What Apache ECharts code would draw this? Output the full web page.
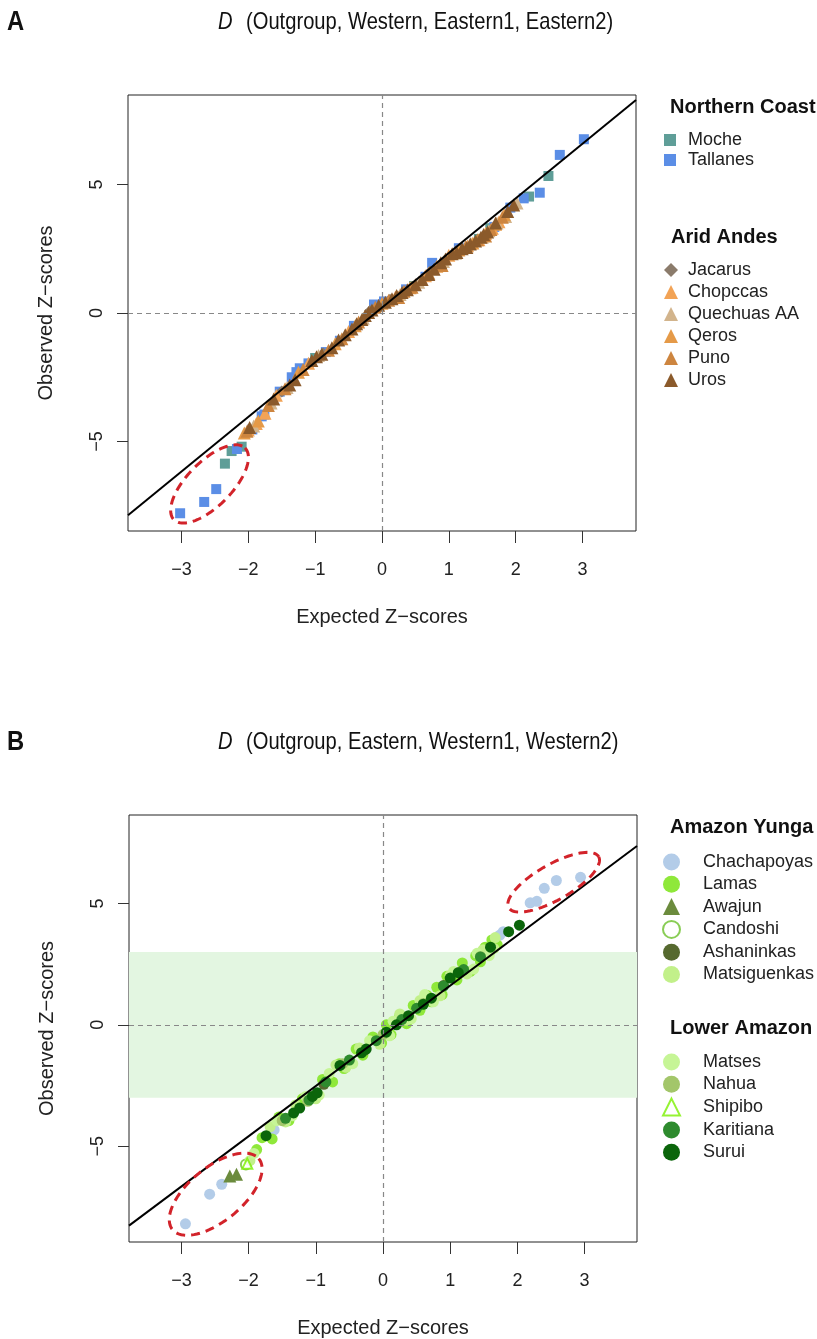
<!DOCTYPE html>
<html>
<head>
<meta charset="utf-8">
<script src="https://cdn.jsdelivr.net/npm/echarts@6/dist/echarts.min.js"></script>
<style>
html, body { margin: 0; background: #fff; }
#chart { width: 817px; height: 1339px; }
</style>
</head>
<body>
<div id="chart"></div>
<script>
// ---- data: [expected Z, observed Z] ----
const xTicks = [-3, -2, -1, 0, 1, 2, 3];
const yTicks = [-5, 0, 5];

// panel A: D(Outgroup, Western, Eastern1, Eastern2)
const moche = [[-2.35, -5.86], [-2.25, -5.37], [-2.1, -5.2], [-1.0, -1.75], [0.48, 1.05], [1.45, 2.88], [1.62, 3.3], [2.2, 4.53], [2.49, 5.33]];
const tallanes = [[-3.02, -7.79], [-2.66, -7.35], [-2.48, -6.85], [-2.17, -5.29], [-1.94, -4.53], [-1.8, -4.02], [-1.76, -3.95],
  [-1.53, -3.06], [-1.35, -2.5], [-1.28, -2.3], [-1.23, -2.15], [-1.1, -1.96], [-0.84, -1.52], [-0.63, -1.08], [-0.42, -0.5],
  [-0.12, 0.33], [0.03, 0.45], [0.36, 0.92], [0.65, 1.41], [0.75, 1.95], [1.15, 2.52], [1.68, 3.35], [1.92, 4.1], [2.12, 4.46],
  [2.36, 4.68], [2.66, 6.15], [3.02, 6.76]];
const jacarus = [[-1.5, -3.05], [-0.88, -1.58], [-0.18, 0.08], [0.12, 0.52], [0.72, 1.6], [1.18, 2.48]];
const chopccas = [[-2.0, -4.55], [-1.88, -4.3], [-1.75, -3.9], [-1.58, -3.2], [-1.1, -1.95], [-0.5, -0.72], [0.2, 0.62], [0.65, 1.45],
  [1.0, 2.25], [1.28, 2.62], [1.45, 2.85], [1.55, 3.1], [1.65, 3.3], [1.75, 3.55]];
const quechuasAA = [[-1.92, -4.4], [-1.66, -3.5], [-1.42, -2.9], [-0.95, -1.65], [-0.28, -0.2], [0.27, 0.72], [0.55, 1.2],
  [0.92, 2.0], [1.1, 2.32], [1.33, 2.7], [1.5, 2.95], [1.6, 3.2], [1.72, 3.5], [1.85, 3.75], [2.02, 4.28]];
const qeros = [[-2.06, -4.67], [-1.85, -4.2], [-1.25, -2.3], [-0.7, -1.2], [-0.4, -0.5], [0.0, 0.38], [0.42, 0.98],
  [0.82, 1.82], [1.15, 2.45], [1.36, 2.72], [1.7, 3.45], [1.83, 3.82]];
const puno = [[-2.02, -4.6], [-1.7, -3.6], [-1.45, -2.95], [-1.18, -2.2], [-0.8, -1.45], [-0.6, -1.0], [-0.35, -0.35],
  [-0.1, 0.22], [0.1, 0.5], [0.25, 0.6], [0.33, 0.85], [0.45, 1.0], [0.7, 1.55], [0.9, 1.85], [1.1, 2.38], [1.25, 2.58],
  [1.43, 2.85], [1.55, 3.0], [1.63, 3.25], [1.8, 3.72]];
const uros = [[-1.98, -4.45], [-1.62, -3.35], [-1.38, -2.8], [-1.3, -2.6], [-1.05, -1.85], [-0.98, -1.7], [-0.9, -1.6],
  [-0.75, -1.35], [-0.65, -1.05], [-0.55, -0.85], [-0.45, -0.62], [-0.38, -0.42], [-0.3, -0.25], [-0.25, -0.1], [-0.2, 0.02],
  [-0.15, 0.12], [-0.05, 0.3], [0.05, 0.42], [0.15, 0.55], [0.22, 0.68], [0.3, 0.8], [0.38, 0.9], [0.5, 1.1], [0.6, 1.3],
  [0.7, 1.5], [0.78, 1.7], [0.88, 1.95], [0.95, 2.1], [1.05, 2.3], [1.12, 2.35], [1.2, 2.5], [1.27, 2.55], [1.32, 2.68],
  [1.4, 2.8], [1.48, 2.95], [1.52, 3.05], [1.58, 3.15], [1.7, 3.5], [1.88, 3.95], [1.97, 4.2]];

// panel B: D(Outgroup, Eastern, Western1, Western2)
const chachapoyas = [[-2.94, -8.2], [-2.58, -6.98], [-2.4, -6.57], [-1.62, -4.33], [1.74, 3.7], [1.79, 3.84],
  [2.19, 5.03], [2.29, 5.09], [2.4, 5.63], [2.58, 5.95], [2.94, 6.08]];
const lamas = [[-1.88, -5.14], [-1.8, -4.65], [-1.65, -4.7], [-1.55, -3.8], [-1.4, -3.95], [-1.2, -3.05], [-1.05, -2.95],
  [-0.9, -2.25], [-0.75, -2.35], [-0.65, -1.6], [-0.58, -1.8], [-0.4, -1.0], [-0.3, -1.25], [-0.15, -0.5], [-0.02, -0.75],
  [0.05, 0.0], [0.12, -0.4], [0.25, 0.38], [0.35, 0.05], [0.45, 0.8], [0.55, 0.6], [0.65, 1.22], [0.72, 0.95], [0.8, 1.55],
  [0.88, 1.25], [0.95, 2.0], [1.1, 1.85], [1.18, 2.55], [1.3, 2.2], [1.38, 2.85], [1.45, 2.6], [1.52, 3.2], [1.58, 2.95],
  [1.62, 3.5], [1.7, 3.3]];
const awajun = [[-2.28, -6.23], [-2.18, -6.16]];
const candoshi = [[-2.04, -5.76]];
const ashaninkas = [[-0.88, -2.45], [-0.28, -1.05], [0.32, 0.3], [0.9, 1.62]];
const matsiguenkas = [[-1.98, -5.6], [-1.68, -4.2], [-1.45, -4.0], [-1.3, -3.3], [-1.0, -3.05], [-0.7, -1.65], [-0.55, -1.75],
  [-0.35, -0.95], [-0.05, -0.8], [0.25, 0.45], [0.35, 0.2], [0.55, 1.0], [0.85, 1.2], [1.0, 2.05], [1.25, 2.1], [1.49, 3.1],
  [1.65, 3.15], [1.67, 3.6]];
const matses = [[-1.92, -5.3], [-1.58, -3.95], [-1.35, -3.75], [-1.15, -2.95], [-0.95, -2.9], [-0.8, -2.0], [-0.45, -1.6],
  [-0.2, -0.65], [0.1, -0.45], [0.15, 0.15], [0.42, 0.25], [0.62, 1.25], [0.75, 0.95], [1.05, 2.2], [1.35, 2.3], [1.4, 2.95], [1.58, 2.85]];
const nahua = [[-1.5, -3.95], [-1.12, -3.15], [-0.6, -1.6], [0.0, -0.4], [0.6, 0.88], [1.15, 2.2], [1.45, 2.82]];
const shipibo = [[-2.02, -5.72]];
const karitiana = [[-1.45, -3.85], [-1.1, -3.1], [-0.85, -2.35], [-0.5, -1.45], [-0.1, -0.65], [0.28, 0.22], [0.5, 0.68],
  [0.9, 1.6], [1.2, 2.28], [1.45, 2.8]];
const surui = [[-1.74, -4.57], [-1.33, -3.63], [-1.24, -3.43], [-1.05, -2.95], [-0.98, -2.8], [-0.64, -1.67], [-0.32, -1.15],
  [-0.25, -1.0], [0.05, -0.3], [0.2, 0.0], [0.38, 0.38], [0.6, 0.85], [0.72, 1.1], [1.0, 1.93], [1.12, 2.15], [1.6, 3.2],
  [1.87, 3.84], [2.03, 4.11]];

// fitted reference lines [intercept, slope] and axis ranges
const lineA = [0.21, 2.125];
const lineB = [-0.45, 2.07];
const xRangeA = [-3.8, 3.8], yRangeA = [-8.48, 8.48];
const xRangeB = [-3.78, 3.78], yRangeB = [-8.95, 8.65];
const bandB = [-3, 3];

// highlighted outliers: [cx, cy, axis1 dx, dy, axis2 dx, dy] in data units
const ellipsesA = [[-2.58, -6.65, 0.53, 1.40, 0.24, -0.60]];
const ellipsesB = [[-2.49, -6.98, 0.64, 1.47, 0.26, -0.84], [2.54, 5.88, 0.67, 1.05, 0.13, -0.64]];

// ---- chart ----
const FONT = "'Liberation Sans', Arial, sans-serif";
const chart = echarts.init(document.getElementById('chart'), null, { renderer: 'canvas' });

const minus = v => String(v).replace('-', '\u2212');

const makeAxes = (grid, xr, yr) => ({
	x: {
		type: 'value', gridIndex: grid, min: xr[0], max: xr[1],
		name: 'Expected Z\u2212scores', nameLocation: 'middle', nameGap: 76,
		nameTextStyle: { fontFamily: FONT, fontSize: 20, color: '#222' },
		axisLine: { show: false, onZero: false },
		axisTick: { show: true, length: 12, customValues: xTicks, lineStyle: { color: '#333' } },
		axisLabel: { customValues: xTicks, margin: 30, fontFamily: FONT, fontSize: 18, color: '#222', formatter: minus },
		splitLine: { show: false },
	},
	y: {
		type: 'value', gridIndex: grid, min: yr[0], max: yr[1],
		name: 'Observed Z\u2212scores', nameLocation: 'middle', nameGap: 72,
		nameTextStyle: { fontFamily: FONT, fontSize: 20, color: '#222' },
		axisLine: { show: false, onZero: false },
		axisTick: { show: true, length: 11, customValues: yTicks, lineStyle: { color: '#333' } },
		axisLabel: { customValues: yTicks, rotate: 90, margin: 22, fontFamily: FONT, fontSize: 18, color: '#222', formatter: minus },
		splitLine: { show: false },
	},
});
const axA = makeAxes(0, xRangeA, yRangeA);
const axB = makeAxes(1, xRangeB, yRangeB);

const pts = (name, data, idx, symbol, color, size, extra = {}) => Object.assign({
	name, type: 'scatter', xAxisIndex: idx, yAxisIndex: idx, data, symbol, symbolSize: size,
	itemStyle: { color, opacity: 1 }, z: 3, silent: true,
}, extra);

const abline = (idx, ln, xr) => ({
	type: 'line', xAxisIndex: idx, yAxisIndex: idx, z: 5, silent: true, symbol: 'none',
	data: [[xr[0], ln[0] + ln[1] * xr[0]], [xr[1], ln[0] + ln[1] * xr[1]]],
	lineStyle: { color: '#000', width: 2 },
});

const zeroLines = {
	symbol: 'none', silent: true, label: { show: false },
	lineStyle: { color: '#888', type: [5, 4], width: 1.2 },
	data: [{ xAxis: 0 }, { yAxis: 0 }],
};

const background = (idx, ln, xr, band) => ({
	type: 'line', xAxisIndex: idx, yAxisIndex: idx, z: 1, silent: true, symbol: 'none',
	data: [[xr[0], ln[0] + ln[1] * xr[0]], [xr[1], ln[0] + ln[1] * xr[1]]],
	lineStyle: { opacity: 0 },
	markLine: zeroLines,
	markArea: band ? { silent: true, itemStyle: { color: '#e3f6e1' }, data: [[{ yAxis: band[0] }, { yAxis: band[1] }]] } : undefined,
});

const ellipse = (idx, data) => ({
	type: 'custom', xAxisIndex: idx, yAxisIndex: idx, z: 6, silent: true, clip: false,
	data, encode: { x: 0, y: 1 },
	renderItem: (params, api) => {
		const v = [0, 1, 2, 3, 4, 5].map(i => api.value(i));
		const points = [];
		for (let k = 0; k <= 90; k++) {
			const t = k / 90 * Math.PI * 2;
			points.push(api.coord([v[0] + v[2] * Math.cos(t) + v[4] * Math.sin(t), v[1] + v[3] * Math.cos(t) + v[5] * Math.sin(t)]));
		}
		return { type: 'polyline', shape: { points }, style: { fill: null, stroke: '#d2232a', lineWidth: 3, lineDash: [9, 6] } };
	},
});

const legendBase = (names, left, top, gap, size, pad) => ({
	orient: 'vertical', left, top, padding: 0, itemGap: gap, itemWidth: size, itemHeight: size,
	selectedMode: false, data: names,
	textStyle: { fontFamily: FONT, fontSize: 18, lineHeight: 18, color: '#222', padding: [0, 0, 0, pad] },
});

const heading = (text, left, top) => ({ text, left, top, padding: 0,
	textStyle: { fontFamily: FONT, color: '#111', fontSize: 20, fontWeight: 'bold' } });

// panel letters and D-statistic titles, drawn condensed like the original figure
const panelTitle = (letter, rest, top) => [
	{ type: 'text', x: 7, y: top - 2, scaleX: 0.85, style: { text: letter, font: "bold 28px 'Liberation Sans', Arial", fill: '#111' } },
	{ type: 'text', x: 218, y: top, scaleX: 0.84, style: { text: 'D', font: "italic 24px 'Liberation Sans', Arial", fill: '#111' } },
	{ type: 'text', x: 246, y: top, scaleX: 0.84, style: { text: rest, font: "24px 'Liberation Sans', Arial", fill: '#111' } },
];

const option = {
	backgroundColor: '#fff',
	animation: false,
	graphic: [
		...panelTitle('A', '(Outgroup, Western, Eastern1, Eastern2)', 10),
		...panelTitle('B', '(Outgroup, Eastern, Western1, Western2)', 730),
	],
	title: [
		heading('Northern Coast', 670, 97),
		heading('Arid Andes', 671, 227),
		heading('Amazon Yunga', 670, 817),
		heading('Lower Amazon', 670, 1018),
	],
	legend: [
		legendBase(['Moche', 'Tallanes'], 664, 131, 2, 12, 7),
		legendBase(['Jacarus', 'Chopccas', 'Quechuas AA', 'Qeros', 'Puno', 'Uros'], 664, 261, 4, 14, 5),
		legendBase(['Chachapoyas', 'Lamas', 'Awajun', 'Candoshi', 'Ashaninkas', 'Matsiguenkas'], 662, 853, 4.3, 17, 18),
		legendBase(['Matses', 'Nahua', 'Shipibo', 'Karitiana', 'Surui'], 662, 1053, 4.3, 17, 18),
	],
	grid: [
		{ left: 128, top: 95, width: 508, height: 436, show: true, borderColor: '#222', borderWidth: 1, backgroundColor: 'transparent' },
		{ left: 129, top: 815, width: 508, height: 427, show: true, borderColor: '#222', borderWidth: 1, backgroundColor: 'transparent' },
	],
	xAxis: [axA.x, axB.x],
	yAxis: [axA.y, axB.y],
	series: [
		background(0, lineA, xRangeA, null),
		background(1, lineB, xRangeB, bandB),
		// panel A
		pts('Moche', moche, 0, 'rect', '#5f9e98', 10),
		pts('Tallanes', tallanes, 0, 'rect', '#5b8ee6', 10),
		pts('Jacarus', jacarus, 0, 'diamond', '#8b7b6b', 12),
		pts('Chopccas', chopccas, 0, 'triangle', '#f2a356', 13),
		pts('Quechuas AA', quechuasAA, 0, 'triangle', '#d2b48c', 13),
		pts('Qeros', qeros, 0, 'triangle', '#e59a48', 13),
		pts('Puno', puno, 0, 'triangle', '#cd853f', 13),
		pts('Uros', uros, 0, 'triangle', '#8b5a2b', 13),
		// panel B
		pts('Chachapoyas', chachapoyas, 1, 'circle', '#b3cce8', 11),
		pts('Lamas', lamas, 1, 'circle', '#8fe83a', 11),
		pts('Awajun', awajun, 1, 'triangle', '#6b8b3d', 13),
		pts('Candoshi', candoshi, 1, 'emptyCircle', '#6cc02a', 10, { itemStyle: { color: '#6cc02a', borderWidth: 3 } }),
		pts('Ashaninkas', ashaninkas, 1, 'circle', '#56692f', 11),
		pts('Matsiguenkas', matsiguenkas, 1, 'circle', '#c2f08a', 11),
		pts('Matses', matses, 1, 'circle', '#c6f596', 11),
		pts('Nahua', nahua, 1, 'circle', '#a3c66a', 11),
		pts('Shipibo', shipibo, 1, 'emptyTriangle', '#7cf000', 10, { itemStyle: { color: '#7cf000', borderWidth: 2.5 } }),
		pts('Karitiana', karitiana, 1, 'circle', '#2e8b2e', 11),
		pts('Surui', surui, 1, 'circle', '#0b650b', 11),
		abline(0, lineA, xRangeA),
		abline(1, lineB, xRangeB),
		ellipse(0, ellipsesA),
		ellipse(1, ellipsesB),
	],
};

chart.setOption(option);
</script>
</body>
</html>
